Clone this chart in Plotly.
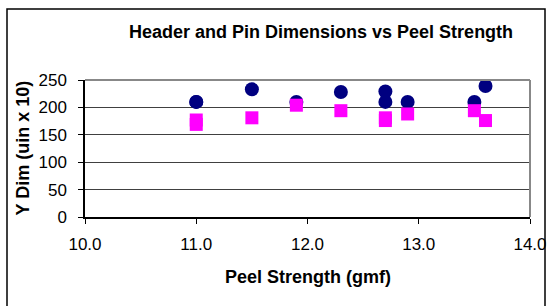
import plotly.graph_objects as go

# Data
peel_strength = [11.0, 11.0, 11.5, 11.9, 12.3, 12.7, 12.7, 12.9, 13.5, 13.6]
header_dim = [210, 210, 233, 210, 228, 229, 210, 210, 210, 239]
pin_dim = [177, 169, 181, 204, 194, 181, 176, 188, 194, 176]

x_ticks = [10.0, 11.0, 12.0, 13.0, 14.0]
x_tick_labels = ["10.0", "11.0", "12.0", "13.0", "14.0"]
y_ticks = [0, 50, 100, 150, 200, 250]

FONT = "Arial, Liberation Sans, sans-serif"

W, H = 551, 306
plot_left, plot_right, plot_top, plot_bottom = 85, 530, 80, 217  # page pixels
L = plot_left
R = W - plot_right
T = plot_top
B = H - plot_bottom
pw = W - L - R
ph = H - T - B

def px(xp):
    return (xp - plot_left) / pw

def py(yp):
    return (plot_bottom - yp) / ph

fig = go.Figure()
fig.add_trace(go.Scatter(
    x=peel_strength, y=header_dim, mode="markers", name="Header",
    marker=dict(symbol="circle", size=14, color="#000080", line=dict(width=0)),
    cliponaxis=False,
))
fig.add_trace(go.Scatter(
    x=peel_strength, y=pin_dim, mode="markers", name="Pin",
    marker=dict(symbol="square", size=13, color="#FF00FF", line=dict(width=0)),
    cliponaxis=False,
))

fig.update_layout(
    width=W, height=H,
    margin=dict(l=L, r=R, t=T, b=B, autoexpand=False),
    paper_bgcolor="white", plot_bgcolor="white",
    showlegend=False,
    font=dict(family=FONT, size=17, color="black"),
    xaxis=dict(
        range=[10, 14], tickvals=x_ticks, ticktext=x_tick_labels,
        showgrid=False, zeroline=False,
        showline=True, linecolor="black", linewidth=1.5,
        ticks="outside", ticklen=5, tickcolor="black", tickwidth=1,
        ticklabelstandoff=6,
        tickfont=dict(size=17, family=FONT),
        automargin=False,
    ),
    yaxis=dict(
        range=[0, 250], tickvals=y_ticks,
        showgrid=True, gridcolor="#404040", gridwidth=1,
        zeroline=False,
        showline=True, linecolor="black", linewidth=1.5,
        ticks="outside", ticklen=5, tickcolor="black", tickwidth=1,
        ticklabelstandoff=8,
        tickfont=dict(size=17, family=FONT),
        automargin=False,
    ),
    shapes=[
        dict(type="line", xref="paper", yref="paper", x0=0, x1=1, y0=1, y1=1,
             line=dict(color="#888888", width=2)),
        dict(type="line", xref="paper", yref="paper", x0=1, x1=1, y0=0, y1=1,
             line=dict(color="#888888", width=2)),
        dict(type="rect", xref="paper", yref="paper",
             x0=px(7), x1=px(545), y0=py(320), y1=py(9),
             line=dict(color="black", width=1.5), layer="below"),
    ],
    annotations=[
        dict(text="<b>Header and Pin Dimensions vs Peel Strength</b>",
             xref="paper", yref="paper", x=px(321), y=py(32),
             xanchor="center", yanchor="middle", showarrow=False,
             font=dict(size=18, family=FONT, color="black")),
        dict(text="<b>Peel Strength (gmf)</b>",
             xref="paper", yref="paper", x=px(308), y=py(277),
             xanchor="center", yanchor="middle", showarrow=False,
             font=dict(size=18, family=FONT, color="black")),
        dict(text="<b>Y Dim (uin x 10)</b>", textangle=-90,
             xref="paper", yref="paper", x=px(22), y=py(148.5),
             xanchor="center", yanchor="middle", showarrow=False,
             font=dict(size=18, family=FONT, color="black")),
    ],
)

fig.write_html(
    "out.html",
    config={"displayModeBar": False},
    post_script="document.body.style.margin='0';document.body.style.overflow='hidden';",
)
